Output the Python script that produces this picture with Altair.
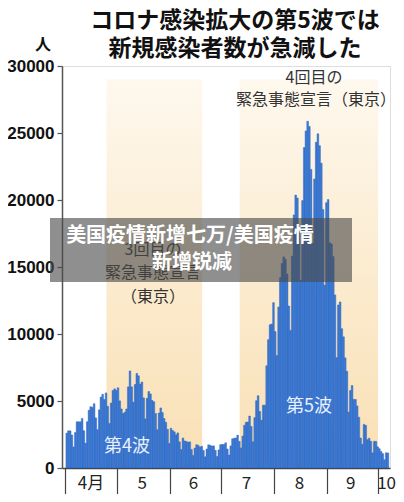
import altair as alt
import pandas as pd

# Daily new cases (Japan)
apr = [2599, 2776, 2772, 2456, 1570, 2649, 3451, 3446, 3449, 3697, 2778, 1853, 3455, 4312, 4573,
       4530, 4801, 3738, 2865, 4337, 5290, 5500, 5120, 5606, 4606, 3316, 4849, 5787, 5910, 5796]
may = [5985, 5010, 4406, 4070, 4160, 4406, 6054, 7244, 6055, 4916, 6233, 7056, 6879, 6268, 6418,
       5230, 3667, 5201, 5708, 5528, 5041, 4941, 4065, 2853, 4104, 4482, 4139, 3692, 3420, 2888, 1835]
jun = [2962, 2800, 2700, 2478, 2620, 1950, 1380, 2240, 2020, 1980, 1922, 1950, 1387, 933, 1490,
       1740, 1680, 1560, 1620, 1310, 833, 1420, 1730, 1690, 1640, 1650, 1320, 857, 1350, 1740]
jul = [1760, 1750, 1880, 1420, 964, 1650, 2180, 2220, 2240, 2450, 1990, 1500, 2380, 3190, 3420,
       3430, 3880, 3100, 1950, 3760, 5020, 5400, 4220, 3570, 4690, 4690, 7630, 9576, 10699, 10744, 12341]
aug = [10185, 8392, 12016, 14207, 15263, 15753, 15566, 14472, 12086, 10269, 15812, 18889, 20366, 20151, 17600,
       14000, 19955, 23917, 25156, 25876, 25492, 22285, 16761, 21570, 24316, 24938, 24052, 22750, 19294, 13641, 19801]
sep = [20031, 16806, 16720, 15777, 12918, 8232, 12165, 12393, 10396, 9788, 8217, 7222, 4175, 5779, 6154,
       5117, 5112, 4633, 3792, 2235, 1769, 3255, 3182, 2114, 2226, 1989, 1128, 1990, 1979, 1582]
octo = [1440, 1233, 1071, 617, 1138, 1128]

cases = apr + may + jun + jul + aug + sep + octo
dates = pd.date_range("2021-04-01", periods=len(cases), freq="D")
df = pd.DataFrame({"date": dates.strftime("%Y-%m-%d"), "cases": cases})

# State-of-emergency periods (Tokyo)
emergency_start = ["2021-04-25", "2021-07-12"]
emergency_end = ["2021-06-20", "2021-10-01"]
shade_bottom = [0, 0]
shade_top = [29000, 29000]
shade = pd.DataFrame({"start": emergency_start, "end": emergency_end,
                      "bottom": shade_bottom, "top": shade_top})

month_starts = ["2021-04-01", "2021-05-01", "2021-06-01", "2021-07-01", "2021-08-01", "2021-09-01", "2021-10-01"]
month_labels = ["4月", "5", "6", "7", "8", "9", "10"]
month_label_dates = ["2021-04-16", "2021-05-16", "2021-06-15", "2021-07-16", "2021-08-16", "2021-09-15", "2021-10-06"]
months = pd.DataFrame({"d": month_label_dates, "label": month_labels})

y_ticks = [0, 5000, 10000, 15000, 20000, 25000, 30000]

title_lines = ["コロナ感染拡大の第5波では", "新規感染者数が急減した"]
unit_label = "人"
em4_lines = ["4回目の", "緊急事態宣言（東京）"]
em3_lines = ["3回目の", "緊急事態宣言", "（東京）"]
wave4 = "第4波"
wave5 = "第5波"
watermark_lines = ["美国疫情新增七万/美国疫情", "新增锐减"]

JP = "Noto Sans CJK JP"
SC = "Noto Sans CJK SC"

xscale = alt.Scale(type="utc",
                   domain=[alt.DateTime(year=2021, month=3, date=30, utc=True),
                           alt.DateTime(year=2021, month=10, date=8, utc=True)])
yscale = alt.Scale(domain=[0, 30000], nice=False)

tick_values = [alt.DateTime(year=2021, month=int(m[5:7]), date=1, utc=True) for m in month_starts]

shade_layer = alt.Chart(shade).mark_rect(
    color=alt.LinearGradient(
        gradient="linear", x1=0, x2=0, y1=1, y2=0,
        stops=[alt.GradientStop(color="#f9e0b6", offset=0),
               alt.GradientStop(color="#fbeacc", offset=0.45),
               alt.GradientStop(color="#fef8ee", offset=1)])
).encode(
    x=alt.X("start:T", scale=xscale,
            axis=alt.Axis(values=tick_values, labels=False, tickSize=27, tickColor="#444", tickWidth=1.2,
                          domainColor="#444", domainWidth=1.5, grid=False, title=None)),
    x2="end:T",
    y=alt.Y("bottom:Q", scale=yscale,
            axis=alt.Axis(values=y_ticks, format="d", grid=False, title=None,
                          labelFont="Liberation Sans", labelFontWeight="bold", labelFontSize=17,
                          labelColor="#111", tickSize=5, tickColor="#555", tickWidth=1.2,
                          labelPadding=3, domainColor="#555", domainWidth=1.5)),
    y2="top:Q",
)

bars = alt.Chart(df).mark_bar(color="#3a7ddb", stroke="#2559b0", strokeWidth=0.4, binSpacing=0).encode(
    x=alt.X("utcyearmonthdate(date):T", scale=xscale),
    y=alt.Y("cases:Q", scale=yscale),
)

month_text = alt.Chart(months).mark_text(font=JP, fontSize=17, color="#222", baseline="middle").encode(
    x=alt.X("d:T", scale=xscale), y=alt.value(418), text="label:N")


def txt(s, x, y, size, color="#222", weight="normal", font=JP):
    return alt.Chart(pd.DataFrame({"t": [s]})).mark_text(
        font=font, fontSize=size, color=color, fontWeight=weight, baseline="middle", align="center"
    ).encode(x=alt.value(x), y=alt.value(y), text="t:N")


layers = [shade_layer, bars, month_text]
layers += [txt(em4_lines[0], 252, 12, 16, "#333"), txt(em4_lines[1], 254, 34, 16, "#333")]
layers += [txt(em3_lines[0], 91, 184, 16, "#333"), txt(em3_lines[1], 91, 207, 16, "#333"),
           txt(em3_lines[2], 91, 231, 16, "#333")]
layers += [txt(wave4, 65, 381, 18, "#e8f0ff"), txt(wave5, 247, 341, 18, "#e8f0ff")]
layers += [txt(title_lines[0], 173, -45, 23, "#111", "bold"), txt(title_lines[1], 173, -17, 23, "#111", "bold")]
layers += [txt(unit_label, -19, -21, 16, "#111", "bold")]

wm_box = alt.Chart(pd.DataFrame({"t": [0]})).mark_rect(color="#4a4a4a", opacity=0.62).encode(
    x=alt.value(-12), x2=alt.value(290), y=alt.value(152), y2=alt.value(216))
layers += [wm_box,
           txt(watermark_lines[0], 128, 170, 20, "#ffffff", "bold", SC),
           txt(watermark_lines[1], 130, 197, 20, "#ffffff", "bold", SC)]

chart = alt.layer(*layers).properties(
    width=328, height=402,
    autosize=alt.AutoSizeParams(type="none"),
    padding={"left": 54, "top": 58, "right": 6, "bottom": 26},
).configure_view(stroke=None).configure(background="white")

chart.save("out.html", embed_options={"renderer": "svg", "actions": False})
